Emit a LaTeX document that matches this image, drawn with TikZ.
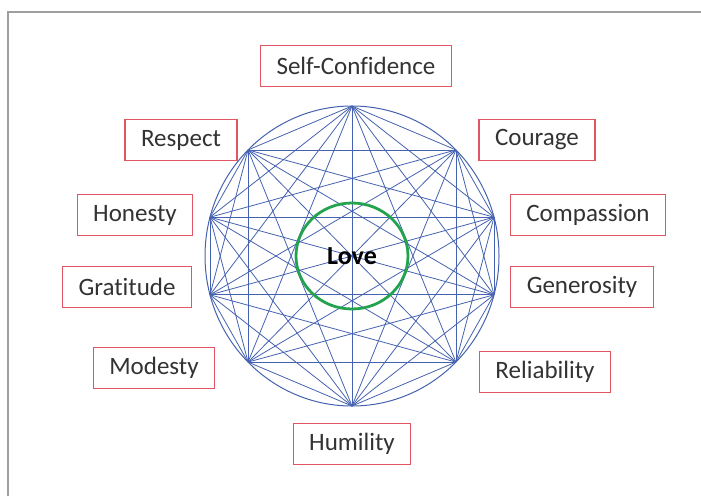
\documentclass[tikz,border=0pt]{standalone}
\usepackage{fontspec}
\setmainfont{Carlito}[Ligatures=NoCommon]
\usepackage{tikz}
\usetikzlibrary{positioning,calc}
\definecolor{virtred}{HTML}{E25562}
\definecolor{virtblue}{HTML}{4562B0}
\definecolor{lovegreen}{HTML}{23A34E}
\definecolor{textgray}{HTML}{333333}

\begin{document}
\begin{tikzpicture}[x=1pt, y=-1pt,
      virtue/.style={rectangle, draw=virtred, line width=1.3pt, fill=white,
        minimum height=41pt, inner xsep=16pt, text=textgray,
        font=\fontsize{25}{29}\selectfont},
      chord/.style={draw=virtblue, line width=0.8pt}
    ]
      \useasboundingbox (0,0) rectangle (701,496);
      % frame
      \draw[gray!75, line width=2pt] (8,496) -- (8,12) -- (701,12);
      % outer ring and vertices
      \coordinate (c) at (352,256);
      \draw[chord, line width=1pt] (c) ellipse [x radius=147, y radius=150];
      \foreach \a [count=\i] in {-90,-45,-15,15,45,90,135,165,195,225}
        \coordinate (v\i) at ($(c)+({147*cos(\a)},{150*sin(\a)})$);
      \foreach \i in {1,...,9} {
        \pgfmathtruncatemacro\nxt{\i+1}
        \foreach \j in {\nxt,...,10}
          \draw[chord] (v\i) -- (v\j);
      }
      % centre
      \draw[lovegreen, line width=2.8pt] (c) ellipse [x radius=56, y radius=53];
      \node[font=\fontsize{26}{30}\selectfont\bfseries] (love) at (c) {Love};
      % virtues
      \node[virtue] (conf) at (356,66)  {Self-Confidence};
      \node[virtue] (resp) at (181,140) {Respect};
      \node[virtue] (cour) at (537,140) {Courage};
      \node[virtue] (hone) at (135,215) {Honesty};
      \node[virtue] (comp) at (588,215) {Compassion};
      \node[virtue] (grat) at (127,287) {Gratitude};
      \node[virtue] (gene) at (582,287) {Generosity};
      \node[virtue] (mode) at (154,368) {Modesty};
      \node[virtue] (reli) at (545,372) {Reliability};
      \node[virtue] (humi) at (352,444) {Humility};
    \end{tikzpicture}
\end{document}
